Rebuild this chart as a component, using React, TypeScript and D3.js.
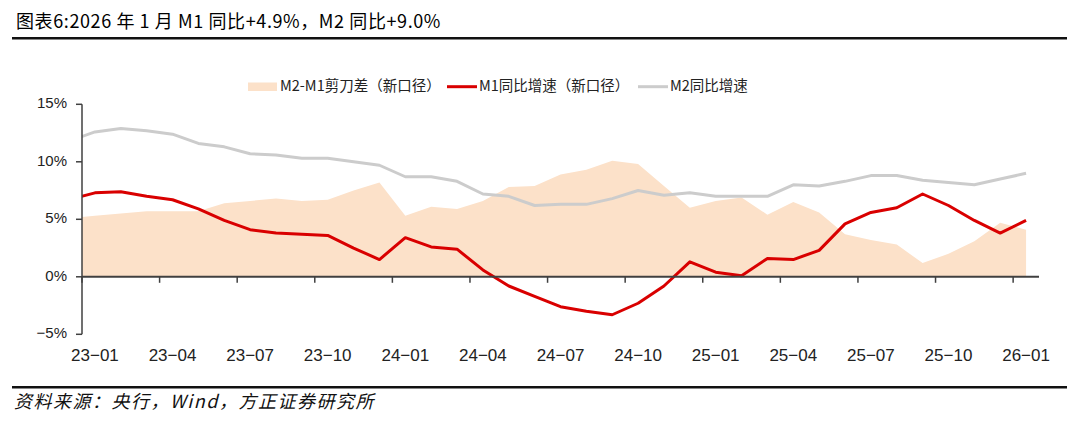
import * as d3 from 'd3';

// months: 22-12 sits left of the axis and gets clipped, like the original
const months = [
  '22-12',
  '23-01', '23-02', '23-03', '23-04', '23-05', '23-06', '23-07', '23-08', '23-09', '23-10', '23-11', '23-12',
  '24-01', '24-02', '24-03', '24-04', '24-05', '24-06', '24-07', '24-08', '24-09', '24-10', '24-11', '24-12',
  '25-01', '25-02', '25-03', '25-04', '25-05', '25-06', '25-07', '25-08', '25-09', '25-10', '25-11', '25-12',
  '26-01',
];

const m2 = [
  11.8,
  12.6, 12.9, 12.7, 12.4, 11.6, 11.3, 10.7, 10.6, 10.3, 10.3, 10.0, 9.7,
  8.7, 8.7, 8.3, 7.2, 7.0, 6.2, 6.3, 6.3, 6.8, 7.5, 7.1, 7.3,
  7.0, 7.0, 7.0, 8.0, 7.9, 8.3, 8.8, 8.8, 8.4, 8.2, 8.0, 8.5,
  9.0,
];

const m1 = [
  6.7,
  7.3, 7.4, 7.0, 6.7, 5.9, 4.9, 4.1, 3.8, 3.7, 3.6, 2.5, 1.5,
  3.4, 2.6, 2.4, 0.6, -0.8, -1.7, -2.6, -3.0, -3.3, -2.3, -0.8, 1.3,
  0.4, 0.1, 1.6, 1.5, 2.3, 4.6, 5.6, 6.0, 7.2, 6.2, 4.9, 3.8,
  4.9,
];

const gap = [
  5.1,
  5.3, 5.5, 5.7, 5.7, 5.7, 6.4, 6.6, 6.8, 6.6, 6.7, 7.5, 8.2,
  5.3, 6.1, 5.9, 6.6, 7.8, 7.9, 8.9, 9.3, 10.1, 9.8, 7.9, 6.0,
  6.6, 6.9, 5.4, 6.5, 5.6, 3.7, 3.2, 2.8, 1.2, 2.0, 3.1, 4.7,
  4.1,
];

const xTickLabels = ['23-01', '23-04', '23-07', '23-10', '24-01', '24-04', '24-07', '24-10', '25-01', '25-04', '25-07', '25-10', '26-01'];
const yTicks = [-5, 0, 5, 10, 15];

const legendItems = ['M2-M1剪刀差（新口径）', 'M1同比增速（新口径）', 'M2同比增速'];

const areaColor = '#FCE1C9';
const redColor = '#D90000';
const grayColor = '#CCCCCC';
const axisColor = '#404040';
const cjkFont = '"Noto Sans CJK SC", "DejaVu Sans", sans-serif';
const numFont = '"Liberation Sans", Arial, sans-serif';

export default function App() {
  const left = 82;
  const right = 1039;

  // month index 0 = 23-01, each month is a band, point in the middle
  const x = d3.scaleLinear().domain([0, 37]).range([left, right]);
  const y = d3.scaleLinear().domain([-5, 15]).range([334.3, 104.3]);
  const px = (i: number) => x(i - 1 + 0.5);

  const idx = months.map((_, i) => i);

  const areaPath = d3
    .area<number>()
    .x((i) => px(i))
    .y0(y(0))
    .y1((i) => y(gap[i]))(idx) as string;

  const m1Path = d3
    .line<number>()
    .x((i) => px(i))
    .y((i) => y(m1[i]))(idx) as string;

  const m2Path = d3
    .line<number>()
    .x((i) => px(i))
    .y((i) => y(m2[i]))(idx) as string;

  const xTicks = xTickLabels.map((lab) => months.indexOf(lab) - 1);

  return (
    <>
      <style>{'body{margin:0}'}</style>
      <svg width={1080} height={428} style={{ display: 'block', background: '#fff' }}>
        <defs>
          <clipPath id='plotClip'>
            <rect x={left} y={60} width={right - left} height={300} />
          </clipPath>
        </defs>

        <text x={16} y={28} style={{ fontFamily: cjkFont, fontSize: 18, letterSpacing: 0.6, fill: '#000' }}>
          图表6:2026 年 1 月 M1 同比+4.9%，M2 同比+9.0%
        </text>
        <line x1={12} x2={1067} y1={38.3} y2={38.3} stroke='#111' strokeWidth={2.5} />

        {/* legend */}
        <g style={{ fontFamily: cjkFont, fontSize: 14.5, fill: '#222' }}>
          <rect x={248} y={82.5} width={29} height={8.5} fill={areaColor} />
          <text x={280} y={87} dominantBaseline='middle'>{legendItems[0]}</text>
          <line x1={447} x2={477} y1={86.7} y2={86.7} stroke={redColor} strokeWidth={3} />
          <text x={479} y={87} dominantBaseline='middle'>{legendItems[1]}</text>
          <line x1={638} x2={668} y1={86.7} y2={86.7} stroke={grayColor} strokeWidth={3} />
          <text x={670} y={87} dominantBaseline='middle'>{legendItems[2]}</text>
        </g>

        <g clipPath='url(#plotClip)'>
          <path d={areaPath} fill={areaColor} />
          <path d={m2Path} fill='none' stroke={grayColor} strokeWidth={3} strokeLinejoin='round' />
          <path d={m1Path} fill='none' stroke={redColor} strokeWidth={3} strokeLinejoin='round' />
        </g>

        {/* y axis */}
        <line x1={left} x2={left} y1={y(15)} y2={y(-5)} stroke={axisColor} strokeWidth={1.5} />
        {yTicks.map((t) => (
          <g key={`yt${t}`}>
            <line x1={left - 6} x2={left} y1={y(t)} y2={y(t)} stroke={axisColor} strokeWidth={1.5} />
            <text
              x={67}
              y={y(t)}
              textAnchor='end'
              dominantBaseline='middle'
              style={{ fontFamily: numFont, fontSize: 15, fill: '#222' }}
            >
              {t < 0 ? `\u2212${-t}%` : `${t}%`}
            </text>
          </g>
        ))}

        {/* x axis at 0 */}
        <line x1={left} x2={right} y1={y(0)} y2={y(0)} stroke={axisColor} strokeWidth={2} />
        {xTicks.map((t, i) => (
          <g key={`xt${i}`}>
            <line x1={x(t)} x2={x(t)} y1={y(0)} y2={y(0) + 6} stroke={axisColor} strokeWidth={1.5} />
            <text
              x={x(t + 0.5)}
              y={357}
              textAnchor='middle'
              dominantBaseline='middle'
              style={{ fontFamily: numFont, fontSize: 17, fill: '#222' }}
            >
              {xTickLabels[i].replace('-', '\u2212')}
            </text>
          </g>
        ))}

        <line x1={12} x2={1067} y1={387.3} y2={387.3} stroke='#111' strokeWidth={2.5} />
        <text
          x={14}
          y={403}
          dominantBaseline='middle'
          style={{ fontFamily: cjkFont, fontSize: 18, letterSpacing: 1.5, fontStyle: 'italic', fill: '#111' }}
        >
          资料来源：央行，Wind，方正证券研究所
        </text>
      </svg>
    </>
  );
}
